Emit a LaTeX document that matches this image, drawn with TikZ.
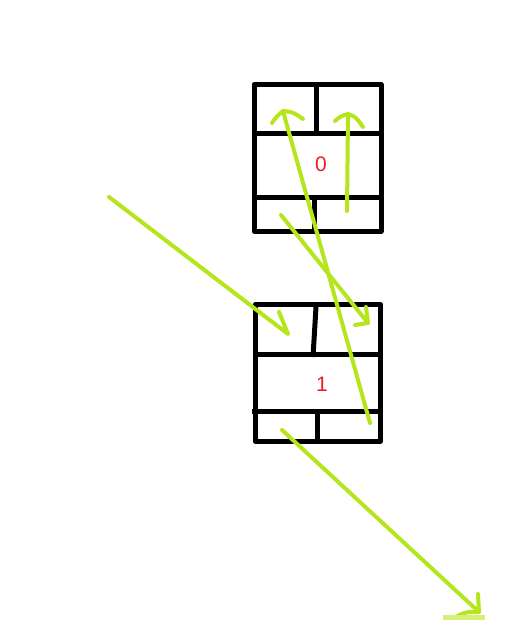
\documentclass[tikz,border=0pt]{standalone}
\usepackage{fontspec}
\setmainfont{Liberation Sans}
\usetikzlibrary{calc}
\definecolor{paintlime}{RGB}{181,230,29}
\definecolor{paintred}{RGB}{237,28,36}

\begin{document}
\begin{tikzpicture}[x=1pt,y=-1pt,line join=round]
  \useasboundingbox (0,0) rectangle (528,641);
  \tikzset{cell/.style={line width=5pt,black},
    stroke/.style={line width=4pt,paintlime,line cap=round},
    digit/.style={paintred,font=\fontsize{21}{21}\selectfont}}

  % upper block
  \draw[cell] (254,84.5) rectangle (381,231);
  \draw[cell] (254,133) -- (381,133); \draw[cell] (254,197.5) -- (381,197.5);
  \draw[cell] (316,84.5) -- (316,134); \draw[cell] (314,197.5) -- (314,231);
  \node[digit] (zero) at (321,164) {0};

  % lower block
  \draw[cell] (255,304.5) rectangle (380.5,441);
  \draw[cell] (255,354) -- (380.5,354); \draw[cell] (252,411) -- (380.5,411);
  \draw[cell] (316,307) -- (313,357); \draw[cell] (317,411) -- (317,443);
  \node[digit] (one) at (322,384) {1};

  \coordinate (A0) at (109,197); \coordinate (A1) at (288,334);
  \coordinate (B0) at (281,215); \coordinate (B1) at (368,323);
  \coordinate (C0) at (370,423); \coordinate (C1) at (283,111);
  \coordinate (D0) at (347,211); \coordinate (D1) at (348,115);
  \coordinate (E0) at (282,430); \coordinate (E1) at (479,612);

  \draw[stroke] (A0) -- (A1) -- (279,312);
  \draw[stroke] (B0) -- (B1) -- (366,307); \draw[stroke] (B1) -- (355,325);
  \draw[stroke] (C0) -- (C1);
  \draw[stroke] (272,123) .. controls (277,116) .. (C1) .. controls (293,112) .. (303,119);
  \draw[stroke] (D0) -- (D1);
  \draw[stroke] (335,121) .. controls (341,116) .. (348,114) .. controls (356,117) .. (363,127);
  \draw[stroke] (E0) -- (E1) -- (478,594);
  \draw[stroke] (456,617) .. controls (465,612) .. (E1);
  \draw[paintlime!60,line width=5pt] (443,617) -- (485,617);
\end{tikzpicture}
\end{document}
